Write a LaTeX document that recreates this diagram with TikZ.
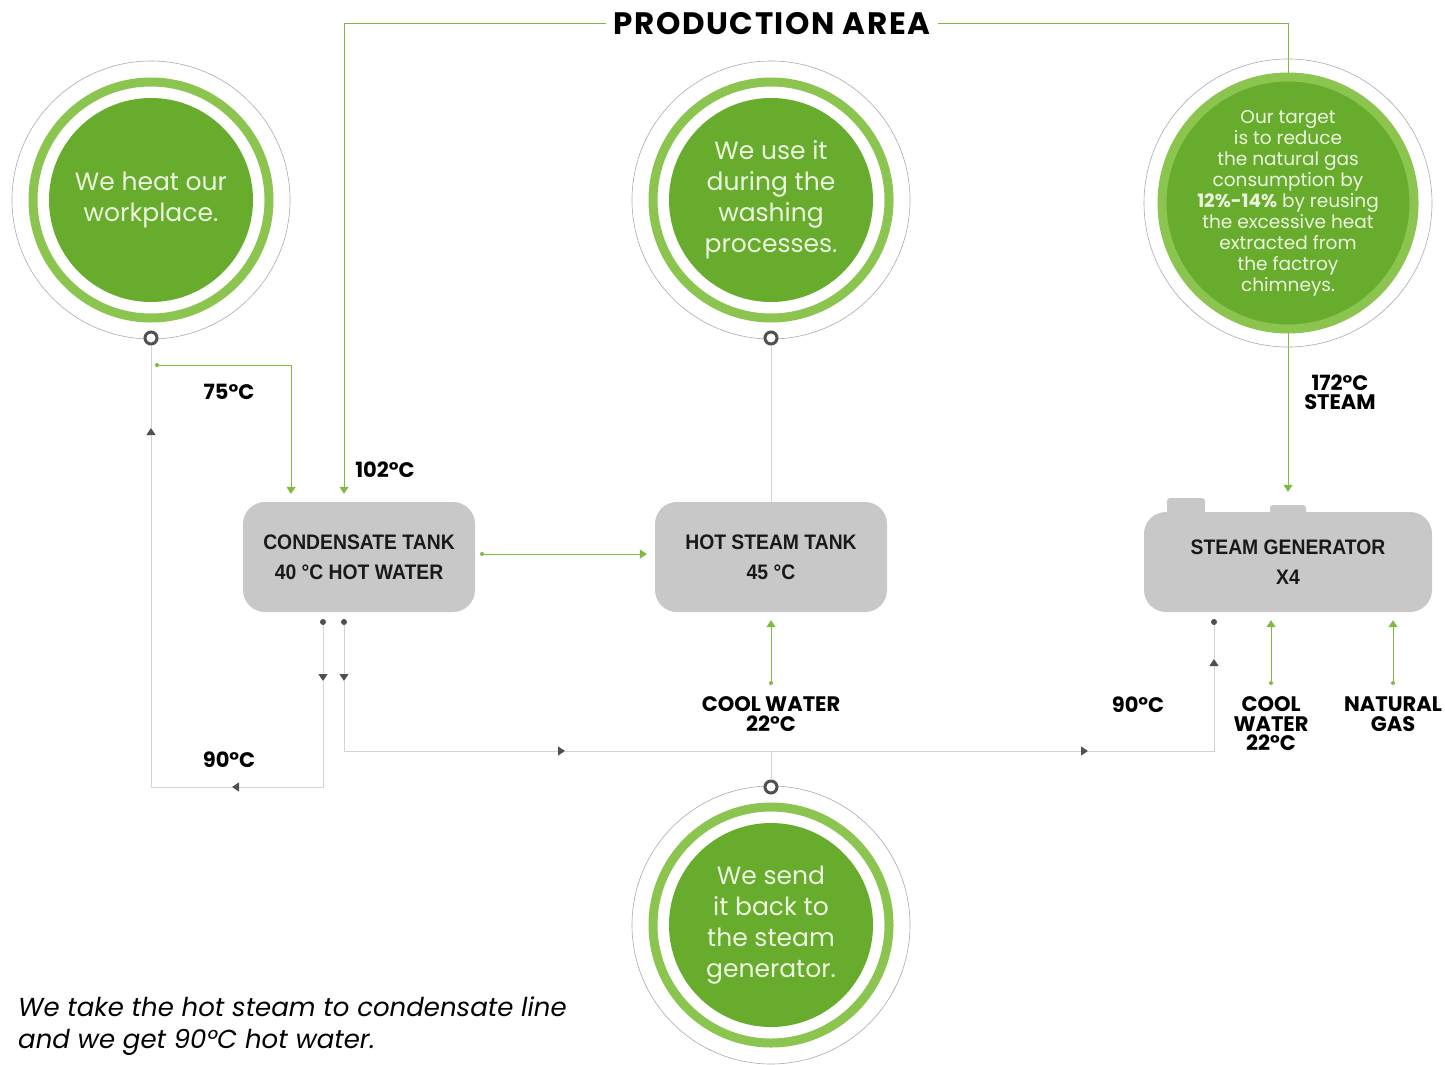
\documentclass[tikz,border=0pt]{standalone}
\usepackage{fontspec}
\setmainfont{Poppins}
\newfontfamily\boxfont[FakeStretch=0.92]{Liberation Sans}
\usetikzlibrary{arrows.meta}
\usetikzlibrary{calc}
\usetikzlibrary{positioning}

\definecolor{discgreen}{RGB}{104,172,46}
\definecolor{ringgreen}{RGB}{140,196,80}
\definecolor{flowgreen}{RGB}{128,186,64}
\definecolor{tankgrey}{RGB}{200,200,200}
\definecolor{pipegrey}{RGB}{212,212,212}
\definecolor{tipgrey}{RGB}{80,80,80}
\definecolor{rimgrey}{RGB}{170,170,178}
\definecolor{disctext}{RGB}{236,246,222}

\begin{document}
\begin{tikzpicture}[x=1pt,y=-1pt,
  disc/.style={circle,fill=discgreen,minimum size=204pt,inner sep=0pt,align=center,text=disctext,font=\fontsize{25}{31}\selectfont},
  ring/.style={draw=ringgreen,line width=9pt},
  rim/.style={draw=rimgrey,line width=0.6pt},
  marker/.style={circle,draw=tipgrey,line width=3pt,fill=white,minimum size=12pt,inner sep=0pt},
  tank/.style={rectangle,rounded corners=22pt,fill=tankgrey,minimum width=232pt,minimum height=110pt,align=center,text=black!90,font=\boxfont\bfseries\fontsize{21}{30}\selectfont},
  lbl/.style={align=center,inner sep=0pt,font=\bfseries\fontsize{21}{19.5}\selectfont},
  gflow/.style={draw=flowgreen,line width=1pt},
  gtip/.style={gflow,-{Triangle[width=9pt,length=7pt,color=flowgreen]}},
  pipe/.style={draw=pipegrey,line width=0.9pt},
  ptip/.style={pipe,-{Triangle[width=9pt,length=7pt,color=tipgrey]}},
  gdot/.style={circle,fill=flowgreen,inner sep=0pt,minimum size=4pt},
  pdot/.style={circle,fill=tipgrey,inner sep=0pt,minimum size=6pt}]

  % page
  \fill[white] (0,0) rectangle (1445,1065);
  \useasboundingbox (0,0) rectangle (1445,1065);

  % title and the two long supply lines
  \node[font=\bfseries\fontsize{31}{33}\selectfont\addfontfeatures{LetterSpace=5},inner sep=8pt] (area) at (772,24) {PRODUCTION AREA};

  % tanks
  \node[tank] (cond) at (359,557) {CONDENSATE TANK\\40 °C HOT WATER};
  \node[tank] (hst) at (771,557) {HOT STEAM TANK\\45 °C};
  \node[tank,minimum width=288pt,minimum height=100pt] (gen) at (1288,562) {STEAM GENERATOR\\X4};
  \fill[tankgrey,rounded corners=3pt] (1167,498) rectangle (1205,520);
  \fill[tankgrey,rounded corners=3pt] (1270,505) rectangle (1306,520);

  \draw[gtip] (area.west) -| ($(cond.north)+(-15,-8)$);
  \draw[gtip] (area.east) -| ($(gen.north)+(0,-20)$);

  % circles
  \node[disc] (heat) at (151,200) {We heat our\\workplace.};
  \draw[ring] (heat.center) circle[radius=118pt];
  \draw[rim] (heat.center) circle[radius=139pt];
  \node[marker] (mheat) at (151,338) {};

  \node[disc] (wash) at (771,200) {We use it\\during the\\washing\\processes.};
  \draw[ring] (wash.center) circle[radius=118pt];
  \draw[rim] (wash.center) circle[radius=139pt];
  \node[marker] (mwash) at (771,338) {};

  \node[disc,minimum size=216pt,font=\fontsize{18.5}{21}\selectfont] (target) at (1288,203)
    {Our target\\is to reduce\\the natural gas\\consumption by\\\textbf{12\%-14\%} by reusing\\the excessive heat\\extracted from\\the factroy\\chimneys.};
  \draw[ring] (target.center) circle[radius=126pt];
  \draw[rim] (target.center) circle[radius=144pt];

  \node[disc] (back) at (771,925) {We send\\it back to\\the steam\\generator.};
  \draw[ring] (back.center) circle[radius=118pt];
  \draw[rim] (back.center) circle[radius=139pt];
  \node[marker] (mback) at (771,787) {};

  % green flows
  \node[gdot] (d75) at (157,365) {};
  \draw[gtip] (d75) -| ($(cond.north)+(-68,-8)$);
  \node[gdot] (dct) at (482,554) {};
  \draw[gtip,shorten >=8pt] (dct) -- (dct -| hst.west);
  \node[gdot] (dcw) at (771,683) {};
  \draw[gtip,shorten >=8pt] (dcw) -- (hst.south);
  \node[gdot] (dgw) at (1271,683) {};
  \draw[gtip,shorten >=8pt] (dgw) -- (dgw |- gen.south);
  \node[gdot] (dng) at (1393,683) {};
  \draw[gtip,shorten >=8pt] (dng) -- (dng |- gen.south);

  % grey return pipes
  \node[pdot] (p1) at (323,622) {};
  \node[pdot] (p2) at (344,622) {};
  \node[pdot] (p3) at (1214,622) {};
  \coordinate (a1) at (323,681);
  \coordinate (k1) at (323,787);
  \coordinate (a2) at (232,787);
  \coordinate (k2) at (151,787);
  \coordinate (a3) at (151,428);
  \draw[ptip] (p1) -- (a1);
  \draw[ptip] (a1) -- (k1) -- (a2);
  \draw[ptip] (a2) -- (k2) -- (a3);
  \draw[pipe] (a3) -- (mheat);

  \coordinate (b1) at (344,681);
  \coordinate (k3) at (344,751);
  \coordinate (b2) at (565,751);
  \coordinate (b3) at (1088,751);
  \coordinate (k4) at (1214,751);
  \coordinate (b4) at (1214,659);
  \coordinate (kb) at (771,751);
  \draw[ptip] (p2) -- (b1);
  \draw[ptip] (b1) -- (k3) -- (b2);
  \draw[ptip] (b2) -- (b3);
  \draw[ptip] (b3) -- (k4) -- (b4);
  \draw[pipe] (b4) -- (p3);
  \draw[pipe] (kb) -- (mback);
  \draw[pipe] (hst) -- (mwash);

  % labels
  \node[lbl] (t75) at (229,392) {75°C};
  \node[lbl] (t102) at (385,470) {102°C};
  \node[lbl] (t90a) at (229,760) {90°C};
  \node[lbl] (tcw) at (771,714) {COOL WATER\\22°C};
  \node[lbl] (t90b) at (1138,705) {90°C};
  \node[lbl] (tgw) at (1271,724) {COOL\\WATER\\22°C};
  \node[lbl] (tng) at (1393,714) {NATURAL\\GAS};
  \node[lbl] (t172) at (1340,392) {172°C\\STEAM};

  \node[anchor=west,align=left,inner sep=0pt,font=\itshape\fontsize{26}{32}\selectfont] (note) at (18,1026)
    {We take the hot steam to condensate line\\and we get 90°C hot water.};
\end{tikzpicture}
\end{document}
